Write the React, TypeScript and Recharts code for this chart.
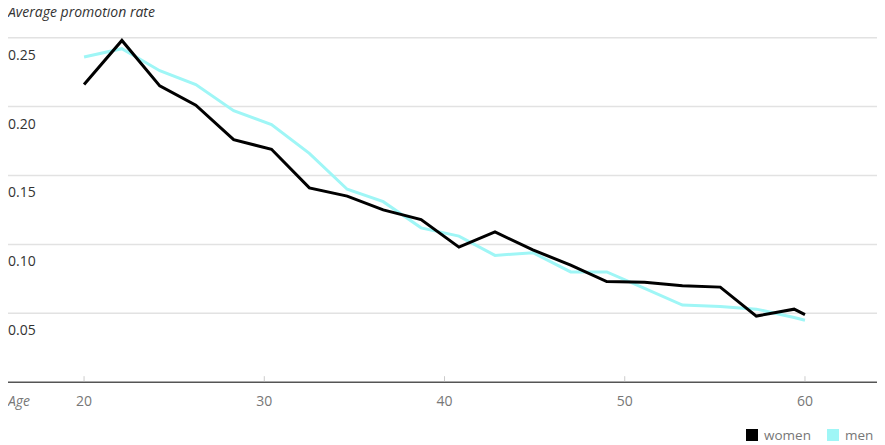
import { CartesianGrid, Label, Legend, Line, LineChart, XAxis, YAxis } from "recharts";

const FONT = "'Open Sans', sans-serif";
const WOMEN = "#000000";
const MEN = "#9ff6f6";
const GRID = "#e2e2e2";
const AXIS = "#555555";
const INK = "#333333";
const MUTE = "#777777";

const ages = [20, 22.1, 24.2, 26.2, 28.3, 30.4, 32.5, 34.6, 36.6, 38.7, 40.8, 42.8, 44.9, 47.0, 49.0, 51.1, 53.2, 55.3, 57.3, 59.4, 60.0];
const women = [0.216, 0.248, 0.215, 0.201, 0.176, 0.169, 0.141, 0.135, 0.125, 0.118, 0.098, 0.109, 0.096, 0.085, 0.073, 0.0725, 0.070, 0.069, 0.048, 0.053, 0.049];
const men = [0.236, 0.242, 0.226, 0.216, 0.197, 0.187, 0.166, 0.140, 0.131, 0.112, 0.106, 0.092, 0.094, 0.080, 0.080, 0.068, 0.056, 0.055, 0.053, 0.047, 0.045];
const yTicks = [0.05, 0.1, 0.15, 0.2, 0.25];
const xTicks = [20, 30, 40, 50, 60];

const rows = ages.map((age, i) => ({ age, women: women[i], men: men[i] }));

// y labels sit under their grid line, flush with the left edge
function YTick({ y, payload }: { y?: number; payload?: { value: number } }) {
  return (
    <text x={0} y={(y ?? 0) + 22} fill={INK} fontSize={14} fontFamily={FONT}>
      {Number(payload?.value ?? 0).toFixed(2)}
    </text>
  );
}

// x ticks: short mark going up from the axis, label below
function XTick({ x, y, payload }: { x?: number; y?: number; payload?: { value: number } }) {
  const cx = x ?? 0;
  const cy = y ?? 0;
  return (
    <g>
      <line x1={cx} x2={cx} y1={cy - 6} y2={cy - 1} stroke="#cccccc" strokeWidth={1} />
      <text x={cx} y={cy + 24} fill={MUTE} fontSize={14} fontFamily={FONT} textAnchor="middle">
        {payload?.value}
      </text>
    </g>
  );
}

function AgeLabel({ viewBox }: { viewBox?: { x: number; y: number } }) {
  if (!viewBox) return null;
  return (
    <text x={viewBox.x} y={viewBox.y + 24} fill={MUTE} fontSize={14} fontStyle="italic" fontFamily={FONT}>
      Age
    </text>
  );
}

function LegendBox() {
  const item = (color: string, name: string, gap: number) => (
    <span style={{ display: "flex", alignItems: "center", marginRight: gap }}>
      <span style={{ width: 12, height: 12, background: color, marginRight: 6 }} />
      <span style={{ color: MUTE, fontSize: 13.5, lineHeight: "14px" }}>{name}</span>
    </span>
  );
  return (
    <div style={{ display: "flex", fontFamily: FONT, whiteSpace: "nowrap" }}>
      {item(WOMEN, "women", 16)}
      {item(MEN, "men", 0)}
    </div>
  );
}

export default function App() {
  return (
    <div style={{ position: "relative", width: 877, height: 437, fontFamily: FONT }}>
      <div
        style={{
          position: "absolute",
          left: 0,
          top: -6,
          fontSize: 14,
          fontStyle: "italic",
          color: INK,
          whiteSpace: "nowrap",
          zIndex: 1,
        }}
      >
        Average promotion rate
      </div>
      <LineChart width={877} height={437} data={rows} margin={{ top: 2.1, right: 0, bottom: 32.8, left: 0 }}>
        <CartesianGrid vertical={false} stroke={GRID} strokeWidth={1.5} horizontalValues={yTicks} />
        <XAxis
          dataKey="age"
          type="number"
          domain={[15.78, 64.44]}
          ticks={xTicks}
          height={30}
          tickSize={0}
          tickMargin={0}
          tickLine={false}
          axisLine={{ stroke: AXIS, strokeWidth: 1.5 }}
          tick={<XTick />}
        >
          <Label content={<AgeLabel />} />
        </XAxis>
        <YAxis
          type="number"
          domain={[0, 0.27]}
          ticks={yTicks}
          interval={0}
          mirror
          axisLine={false}
          tickLine={false}
          tick={<YTick />}
        />
        <Legend
          layout="horizontal"
          verticalAlign="middle"
          align="center"
          wrapperStyle={{ left: 738, top: 420, width: "auto", height: "auto" }}
          content={<LegendBox />}
        />
        <Line dataKey="men" stroke={MEN} strokeWidth={3} dot={false} activeDot={false} isAnimationActive={false} />
        <Line dataKey="women" stroke={WOMEN} strokeWidth={3} dot={false} activeDot={false} isAnimationActive={false} />
      </LineChart>
    </div>
  );
}
